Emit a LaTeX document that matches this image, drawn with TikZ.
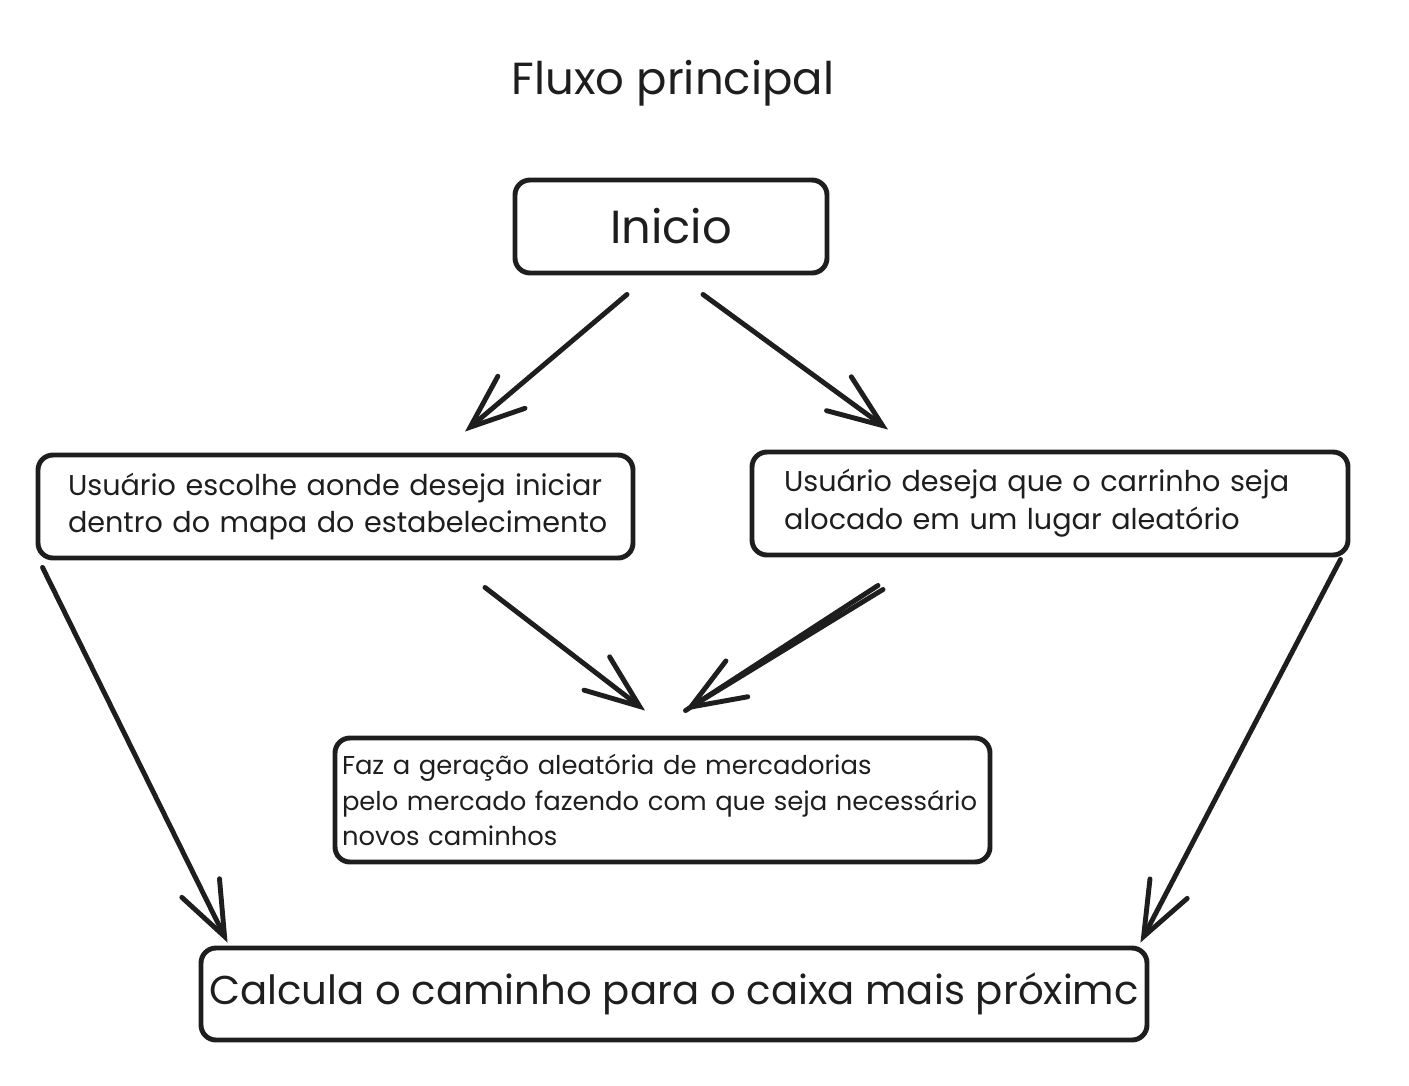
\documentclass[tikz,border=0pt]{standalone}
\usepackage{fontspec}
\usepackage{tikz}
\usepackage{xcolor}
\usetikzlibrary{arrows.meta, calc}

\setmainfont{Poppins}
\definecolor{ink}{HTML}{1E1E1E}
\newcommand{\txtsmall}{\fontsize{8.15}{10.8}\selectfont}
\newcommand{\txtmid}{\fontsize{7.35}{10}\selectfont}
\newcommand{\txtbig}{\fontsize{11.45}{13}\selectfont}
\newcommand{\txttitle}{\fontsize{12.8}{15}\selectfont}
\newcommand{\txtstart}{\fontsize{13.2}{15}\selectfont}

\begin{document}
\begin{tikzpicture}[
    box/.style={draw=ink, line width=1.4pt, rounded corners=0.15cm, text=ink},
    arr/.style={draw=ink, line width=1.4pt, line cap=round,
        -{Straight Barb[length=0.54cm, width=0.42cm, line cap=round]}}
]
    \useasboundingbox (0,0) rectangle (14.09,-10.85);

    % Title
    \node[text=ink, font=\txttitle] (titulo) at (6.73,-0.83) {Fluxo principal};

    % Start
    \node[box, minimum width=3.12cm, minimum height=0.93cm, font=\txtstart] (inicio) at (6.71,-2.265) {Inicio};

    % Two choices
    \node[box, text width=5.35cm, inner xsep=0.30cm, minimum height=1.03cm, align=left, font=\txtsmall] (escolhe) at (3.355,-5.065)
        {\mbox{Usuário escolhe aonde deseja iniciar}\\\mbox{dentro do mapa do estabelecimento}};
    \node[box, text width=5.32cm, inner xsep=0.32cm, minimum height=1.03cm, align=left, font=\txtsmall] (aleatorio) at (10.50,-5.035)
        {\mbox{Usuário deseja que o carrinho seja}\\\mbox{alocado em um lugar aleatório}};

    % Goods generation
    \node[box, text width=6.41cm, inner xsep=0.07cm, minimum height=1.24cm, align=left, font=\txtmid] (geracao) at (6.625,-8.00)
        {Faz a geração aleatória de mercadorias\\pelo mercado fazendo com que seja necessário\\novos caminhos};

    % Final step
    \node[box, minimum width=9.46cm, minimum height=0.92cm, inner xsep=0.02cm, font=\txtbig] (caixa) at (6.74,-9.94)
        {Calcula o caminho para o caixa mais próximc};

    % Arrows from start
    \draw[arr] ($(inicio.south)+(-0.44,-0.19)$) -- ($(escolhe.north)+(1.295,0.21)$);
    \draw[arr] ($(inicio.south)+(0.32,-0.19)$) -- ($(aleatorio.north)+(-1.62,0.20)$);

    % Arrows into goods generation
    \draw[arr] ($(escolhe.south)+(1.495,-0.27)$) -- ($(geracao.north)+(-0.175,0.25)$);
    \draw[arr] ($(aleatorio.south)+(-1.67,-0.32)$) -- ($(geracao.north)+(0.225,0.25)$);
    \draw[draw=ink, line width=1.4pt, line cap=round] ($(aleatorio.south)+(-1.72,-0.28)$) -- ($(geracao.north)+(0.23,0.25)$);

    % Arrows to the checkout
    \draw[arr] ($(escolhe.south west)+(0.07,-0.07)$) -- ($(caixa.north west)+(0.29,0.03)$);
    \draw[arr] ($(aleatorio.south east)+(-0.10,-0.02)$) -- ($(caixa.north east)+(-0.09,0.03)$);
\end{tikzpicture}
\end{document}
